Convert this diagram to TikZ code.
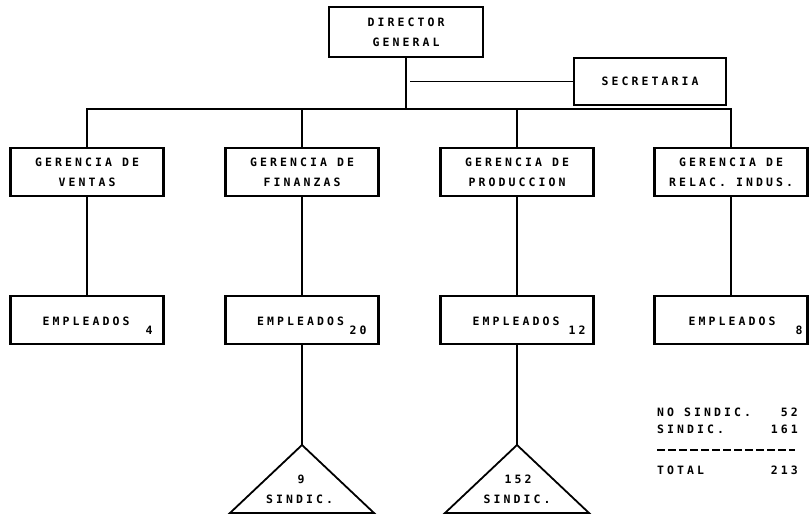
\documentclass[tikz,border=0pt]{standalone}
\usepackage{fontspec}
\newfontfamily\plotfont[LetterSpace=26.8]{DejaVu Sans Mono Bold}
\begin{document}
\begin{tikzpicture}[x=1pt,y=-1pt,
  lbl/.style={inner sep=0pt,font=\plotfont\fontsize{11.5}{20}\selectfont},
  box/.style={draw,line width=2.2pt,minimum width=153pt,minimum height=48pt,
    inner sep=0pt,align=center,font=\plotfont\fontsize{11.5}{20}\selectfont},
  link/.style={line width=1.5pt},
  tri/.style={line width=1.8pt,line join=miter}]
\useasboundingbox (0,0) rectangle (812,518);

% top level
\node[box,minimum width=154pt,minimum height=50pt] (dir) at (406,32) {DIRECTOR\\GENERAL};
\node[box,minimum width=152pt,minimum height=47pt] (sec) at (650,81.5) {SECRETARIA};

% managers
\node[box] (gv) at (87,172) {GERENCIA DE\\VENTAS};
\node[box] (gf) at (302,172) {GERENCIA DE\\FINANZAS};
\node[box] (gp) at (517,172) {GERENCIA DE\\PRODUCCION};
\node[box] (gr) at (731,172) {GERENCIA DE\\RELAC. INDUS.};

% staff
\node[box] (ev) at (87,320) {};
\node[box] (ef) at (302,320) {};
\node[box] (ep) at (517,320) {};
\node[box] (er) at (731,320) {};
\node[lbl] (evt) at (86,321) {EMPLEADOS};
\node[lbl] (eft) at (300.5,321) {EMPLEADOS};
\node[lbl] (ept) at (516,321) {EMPLEADOS};
\node[lbl] (ert) at (732,321) {EMPLEADOS};
\node[lbl] (evn) at (149,330) {4};
\node[lbl] (efn) at (358,330) {20};
\node[lbl] (epn) at (577,330) {12};
\node[lbl] (ern) at (799,330) {8};

% connectors
\coordinate (bus) at (406,109);
\draw[link] (dir.south) -- (bus);
\coordinate (secj) at (dir.south |- sec.west);
\draw[link] ([xshift=4pt]secj) -- (sec.west);
\draw[link] (gv.north) -- (gv.north |- bus) -- (gr.north |- bus) -- (gr.north);
\draw[link] (gf.north) -- (gf.north |- bus);
\draw[link] (gp.north) -- (gp.north |- bus);
\draw[link] (gv.south) -- (ev.north);
\draw[link] (gf.south) -- (ef.north);
\draw[link] (gp.south) -- (ep.north);
\draw[link] (gr.south) -- (er.north);

% unionised groups
\coordinate (tf) at (302,445);
\coordinate (tp) at (517,445);
\draw[link] (ef.south) -- (tf);
\draw[link] (ep.south) -- (tp);
\draw[tri] (tf) -- ++(-72,68) -- ++(144,0) -- cycle;
\draw[tri] (tp) -- ++(-72,68) -- ++(144,0) -- cycle;
\node[lbl] (tfn) at (301,479) {9};
\node[lbl] (tfs) at (299.5,499) {SINDIC.};
\node[lbl] (tpn) at (518,479) {152};
\node[lbl] (tps) at (517,499) {SINDIC.};

% totals
\node[lbl,anchor=west] (ns) at (657,412) {NO SINDIC.};
\node[lbl,anchor=east] (nsn) at (798,412) {52};
\node[lbl,anchor=west] (si) at (657,429) {SINDIC.};
\node[lbl,anchor=east] (sin) at (798,429) {161};
\coordinate (rl) at (657,450);
\coordinate (rr) at (795,450);
\draw[line width=1.3pt,dash pattern=on 8pt off 3pt] (rl) -- (rr);
\node[lbl,anchor=west] (tt) at (657,470) {TOTAL};
\node[lbl,anchor=east] (ttn) at (798,470) {213};
\end{tikzpicture}
\end{document}
